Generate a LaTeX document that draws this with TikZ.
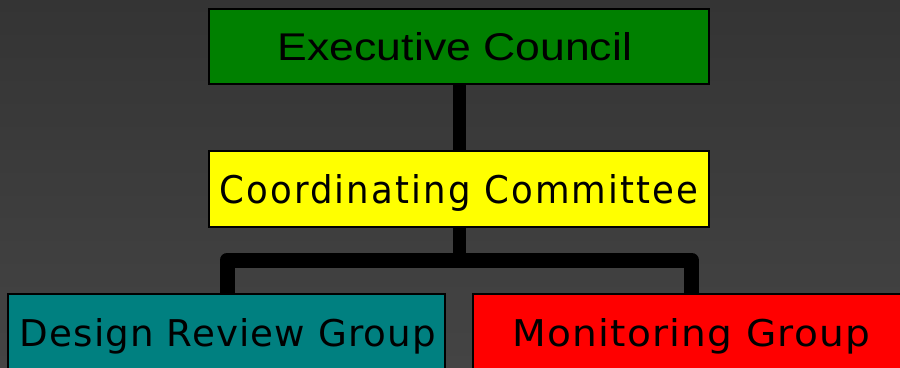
\documentclass[tikz,border=0pt]{standalone}
\usepackage{fontspec}
\setmainfont{Liberation Sans}
\newfontfamily\ccfont[LetterSpace=6]{DejaVu Sans}
\newfontfamily\grpfont[LetterSpace=3]{DejaVu Sans}
\usepackage{graphicx}
\definecolor{bgtop}{HTML}{343434}
\definecolor{bgbot}{HTML}{444444}
\definecolor{ecgreen}{HTML}{008000}
\definecolor{ccyellow}{HTML}{FFFF00}
\definecolor{drgteal}{HTML}{008080}
\definecolor{mgred}{HTML}{FF0000}
\tikzset{
  orgbox/.style={draw=black, line width=2bp, inner sep=0pt, text=black,
    minimum height=75bp, text depth=0bp},
  conn/.style={draw=black, line width=13bp, line cap=butt},
  bracket/.style={draw=black, line width=15bp, line join=round, line cap=butt},
}
\begin{document}
\begin{tikzpicture}[x=1bp,y=-1bp]
\shade[top color=bgtop, bottom color=bgbot] (0,0) rectangle (900,367);
\useasboundingbox (0,0) rectangle (900,367);
\node[orgbox, fill=ecgreen, minimum width=500bp, text height=28bp] (ec) at (459,46.5)
  {\resizebox{354bp}{28bp}{Executive Council}\hspace*{8bp}};
\node[orgbox, fill=ccyellow, minimum width=500bp, minimum height=76bp, text height=29bp] (cc) at (459,189)
  {\resizebox{479bp}{29bp}{\ccfont Coordinating Committee}};
\node[orgbox, fill=drgteal, minimum width=437bp, minimum height=76bp, text height=28bp] (drg) at (226.5,332)
  {\hspace*{3bp}\resizebox{416bp}{28bp}{\grpfont Design Review Group}};
\node[orgbox, fill=mgred, minimum width=437bp, minimum height=76bp, text height=28bp] (mg) at (691.5,332)
  {\resizebox{357bp}{28bp}{\grpfont Monitoring Group}};
\coordinate (bar) at (459,260);
\draw[conn] (ec.south) -- (cc.north);
\draw[conn] (cc.south) -- (cc.south |- bar);
\draw[bracket] ([xshift=0.5bp]drg.north) -- ([xshift=0.5bp]drg.north |- bar) -- (mg.north |- bar) -- (mg.north);
\end{tikzpicture}
\end{document}
